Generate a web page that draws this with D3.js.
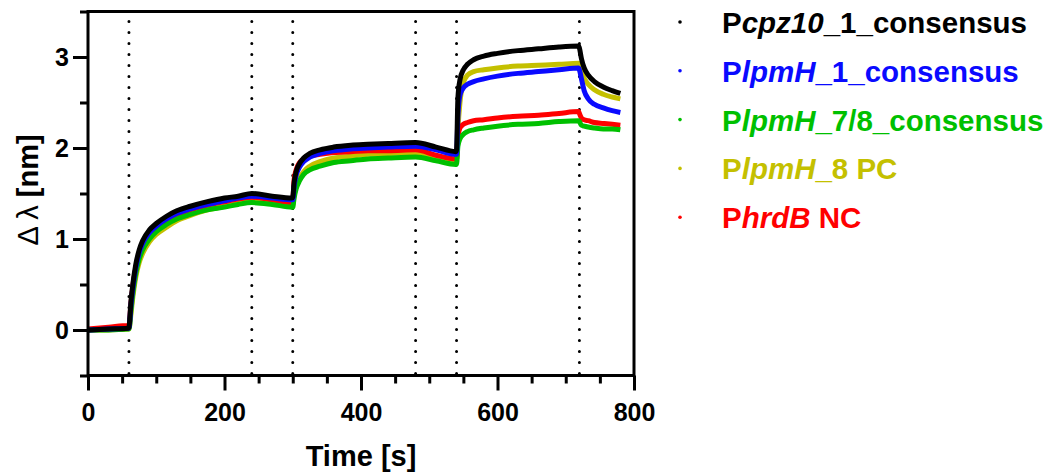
<!DOCTYPE html>
<html>
<head>
<meta charset="utf-8">
<script src="https://cdn.jsdelivr.net/npm/d3@7"></script>
<style>
  body { margin: 0; background: #fff; }
  text { font-family: "Liberation Sans", Arial, sans-serif; font-weight: bold; }
</style>
</head>
<body>
<svg id="chart" width="1055" height="472"></svg>
<script>
// sampling times [s], shared by every series
let times = [0, 30, 59, 60, 63, 66, 70, 75, 80, 90, 100, 115, 130, 150, 175, 200, 220, 240, 270, 299,
  300, 302, 305, 310, 316, 325, 340, 360, 385, 410, 440, 480, 510, 539,
  540, 542, 545, 550, 556, 565, 580, 600, 630, 660, 690, 719,
  720, 723, 727, 733, 742, 755, 768, 780];

let cpz10_1 = [0.00, 0.01, 0.02, 0.03, 0.32, 0.52, 0.72, 0.88, 0.98, 1.10, 1.17, 1.25, 1.31, 1.36, 1.41, 1.45, 1.47, 1.50, 1.47, 1.45,
  1.46, 1.62, 1.74, 1.83, 1.89, 1.94, 1.98, 2.01, 2.03, 2.04, 2.05, 2.06, 2.01, 1.96,
  1.98, 2.55, 2.75, 2.86, 2.92, 2.97, 3.01, 3.04, 3.07, 3.09, 3.11, 3.12,
  3.10, 2.98, 2.88, 2.80, 2.73, 2.67, 2.63, 2.60];

let lpmH_1 = [0.00, 0.01, 0.02, 0.02, 0.28, 0.48, 0.68, 0.85, 0.95, 1.07, 1.14, 1.22, 1.28, 1.33, 1.38, 1.42, 1.45, 1.47, 1.45, 1.43,
  1.43, 1.58, 1.70, 1.79, 1.85, 1.90, 1.94, 1.97, 1.99, 2.00, 2.01, 2.02, 1.98, 1.93,
  1.93, 2.35, 2.58, 2.66, 2.70, 2.73, 2.76, 2.79, 2.82, 2.84, 2.86, 2.88,
  2.86, 2.76, 2.63, 2.54, 2.48, 2.44, 2.41, 2.39];

let lpmH_78 = [0.00, 0.00, 0.01, 0.01, 0.22, 0.42, 0.62, 0.78, 0.88, 1.00, 1.08, 1.16, 1.22, 1.27, 1.32, 1.35, 1.38, 1.40, 1.38, 1.35,
  1.35, 1.45, 1.55, 1.64, 1.71, 1.76, 1.80, 1.84, 1.86, 1.88, 1.89, 1.90, 1.86, 1.82,
  1.82, 2.02, 2.10, 2.15, 2.18, 2.20, 2.22, 2.24, 2.26, 2.27, 2.29, 2.30,
  2.29, 2.25, 2.24, 2.23, 2.22, 2.21, 2.21, 2.20];

let lpmH_8 = [0.00, 0.00, 0.01, 0.01, 0.18, 0.38, 0.58, 0.74, 0.84, 0.97, 1.05, 1.13, 1.20, 1.26, 1.32, 1.36, 1.39, 1.42, 1.40, 1.38,
  1.38, 1.48, 1.58, 1.67, 1.74, 1.80, 1.85, 1.89, 1.91, 1.93, 1.94, 1.95, 1.91, 1.87,
  1.87, 2.20, 2.50, 2.72, 2.80, 2.84, 2.86, 2.88, 2.90, 2.91, 2.92, 2.93,
  2.92, 2.85, 2.77, 2.70, 2.64, 2.59, 2.56, 2.54];

let hrdB = [0.01, 0.03, 0.05, 0.05, 0.30, 0.50, 0.68, 0.84, 0.94, 1.06, 1.13, 1.21, 1.27, 1.32, 1.37, 1.41, 1.44, 1.46, 1.43, 1.40,
  1.41, 1.65, 1.76, 1.84, 1.88, 1.91, 1.93, 1.95, 1.96, 1.97, 1.97, 1.98, 1.92, 1.88,
  1.88, 2.12, 2.22, 2.26, 2.28, 2.30, 2.31, 2.33, 2.35, 2.36, 2.38, 2.40,
  2.38, 2.33, 2.31, 2.30, 2.28, 2.27, 2.26, 2.25];

// step boundaries (dotted lines)
let steps = [60, 240, 300, 480, 540, 720];

let xMajor = [0, 200, 400, 600, 800];
let xMinor = [50, 100, 150, 250, 300, 350, 450, 500, 550, 650, 700, 750];
let yMajor = [0, 1, 2, 3];
let yMinor = [-0.5, 0.5, 1.5, 2.5, 3.5];

// legend: [prefix, italic part, suffix]
let legendParts = [
  ['P', 'cpz10', '_1_consensus'],
  ['P', 'lpmH', '_1_consensus'],
  ['P', 'lpmH', '_7/8_consensus'],
  ['P', 'lpmH', '_8 PC'],
  ['P', 'hrdB', ' NC']
];
let colors = ['#000000', '#0a0aff', '#00c000', '#c4c000', '#ff0000'];
let seriesValues = [cpz10_1, lpmH_1, lpmH_78, lpmH_8, hrdB];
let drawOrder = [3, 4, 2, 1, 0];

let svg = d3.select('#chart');
let x = d3.scaleLinear().domain([0, 800]).range([88, 634]);
let y = d3.scaleLinear().domain([-0.5, 3.5]).range([375.5, 11.5]);

// dotted step lines
svg.append('g').selectAll('line').data(steps).join('line')
  .attr('x1', d => x(d)).attr('x2', d => x(d))
  .attr('y1', 373.5).attr('y2', 20)
  .attr('stroke', '#000').attr('stroke-width', 3)
  .attr('stroke-linecap', 'round')
  .attr('stroke-dasharray', '0 11');

// curves
let line = d3.line().x(d => x(d[0])).y(d => y(d[1])).curve(d3.curveMonotoneX);
drawOrder.forEach(i => {
  let pts = times.map((t, k) => [t, seriesValues[i][k]]);
  svg.append('path').datum(pts)
    .attr('d', line)
    .attr('fill', 'none')
    .attr('stroke', colors[i])
    .attr('stroke-width', 5)
    .attr('stroke-linejoin', 'round');
});

// frame
svg.append('rect')
  .attr('x', x(0)).attr('y', y(3.5))
  .attr('width', x(800) - x(0)).attr('height', y(-0.5) - y(3.5))
  .attr('fill', 'none').attr('stroke', '#000').attr('stroke-width', 3);

function styleAxis(g) {
  g.selectAll('path').remove();
  g.selectAll('line').attr('stroke', '#000').attr('stroke-width', 3);
  g.selectAll('text').attr('fill', '#000').style('font-size', '25px');
}

svg.append('g').attr('transform', `translate(0,${y(-0.5)})`)
  .call(d3.axisBottom(x).tickValues(xMajor).tickSize(15).tickPadding(13).tickFormat(d3.format('d')))
  .call(styleAxis);
svg.append('g').attr('transform', `translate(0,${y(-0.5)})`)
  .call(d3.axisBottom(x).tickValues(xMinor).tickSize(8).tickFormat(''))
  .call(styleAxis);
svg.append('g').attr('transform', `translate(${x(0)},0)`)
  .call(d3.axisLeft(y).tickValues(yMajor).tickSize(15).tickPadding(4).tickFormat(d3.format('d')))
  .call(styleAxis);
svg.append('g').attr('transform', `translate(${x(0)},0)`)
  .call(d3.axisLeft(y).tickValues(yMinor).tickSize(8).tickFormat(''))
  .call(styleAxis);

// axis titles
svg.append('text')
  .attr('x', 361).attr('y', 466)
  .attr('text-anchor', 'middle')
  .style('font-size', '29px')
  .text('Time [s]');

let yTitle = svg.append('text')
  .attr('transform', 'translate(38,190) rotate(-90)')
  .attr('text-anchor', 'middle')
  .style('font-size', '29px');
yTitle.append('tspan').style('font-weight', 'normal').text('Δ λ ');
yTitle.append('tspan').text('[nm]');

// legend
legendParts.forEach((p, i) => {
  let base = 33 + i * 48.8;
  svg.append('circle').attr('cx', 680).attr('cy', base - 11).attr('r', 1.8).attr('fill', colors[i]);
  let t = svg.append('text').attr('x', 722).attr('y', base)
    .attr('fill', colors[i]).style('font-size', '29.5px');
  t.append('tspan').text(p[0]);
  t.append('tspan').style('font-style', 'italic').text(p[1]);
  t.append('tspan').text(p[2]);
});
</script>
</body>
</html>
